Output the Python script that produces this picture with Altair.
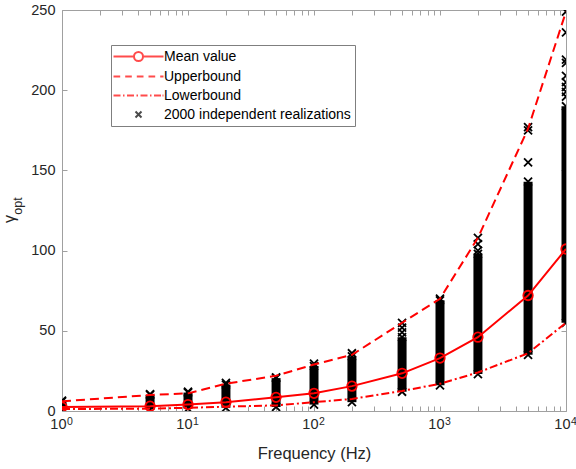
import altair as alt
import pandas as pd

# ---------------- data ----------------
freq = [1, 5, 10, 20, 50, 100, 200, 500, 1000, 2000, 5000, 10000]
mean_val = [2.5, 3, 4, 5.5, 8.5, 11, 15.5, 23.5, 33, 46, 72, 101]
upper = [6, 10, 11, 17, 22, 29, 35, 55, 70, 108, 176, 249]
lower = [1.2, 1.5, 2, 2.7, 3.5, 5.5, 7.5, 12.5, 17, 24, 36, 55]

# realizations: minimum and top of the dense column at each frequency
real_min = [0.5, 1, 1.5, 2, 2.5, 4, 5.5, 12, 16, 23, 35, 55]
real_dense_max = [6, 10, 11.5, 16.5, 20.5, 28, 34, 46, 69, 98, 143, 190]
# isolated realizations above the dense columns
out_freq = [1, 5, 10, 20, 50, 100, 200, 500, 500, 500, 1000,
            2000, 2000, 2000, 5000, 5000, 5000,
            10000, 10000, 10000, 10000, 10000, 10000, 10000, 10000, 10000]
out_val = [6.5, 10.5, 12, 17.5, 21, 29.5, 36, 49, 52, 55, 70,
           100, 104, 108, 155, 175, 177,
           196, 199, 202, 205, 209, 217, 219, 236, 249]

# axes
decades = [1, 10, 100, 1000, 10000]
dec_base = ["10", "10", "10", "10", "10"]
dec_exp = ["0", "1", "2", "3", "4"]
x_ticks = [1, 2, 3, 4, 5, 6, 7, 8, 9,
           10, 20, 30, 40, 50, 60, 70, 80, 90,
           100, 200, 300, 400, 500, 600, 700, 800, 900,
           1000, 2000, 3000, 4000, 5000, 6000, 7000, 8000, 9000, 10000]
y_ticks = [0, 50, 100, 150, 200, 250]

# legend
leg_names = ["Mean value", "Upperbound", "Lowerbound", "2000 independent realizations"]
leg_colors = ["#ff0000", "#ff0000", "#ff0000", "#000000"]

# ---------------- styling ----------------
FONT = "Liberation Sans"
GREY = "#a0a0a0"
TXT = "#262626"
RED = "#ff0000"
W, H = 504, 401

CROSS = "M-1,-1L1,1M-1,1L1,-1"

# legend glyphs, written in pixels and converted to symbol units
SYM = 13.0            # legend symbol box (px)
U = SYM / 2.0         # px per symbol unit


def _p(v):
    return f"{v / U:.4f}"


def seg_path(segs):
    return "".join(f"M{_p(a)},0L{_p(b)},0" for a, b in segs)


r = 4.5
LEG_MEAN = (seg_path([(-25, -r), (r, 25)]) +
            f"M{_p(r)},0A{_p(r)},{_p(r)} 0 1,1 {_p(-r)},0A{_p(r)},{_p(r)} 0 1,1 {_p(r)},0")
LEG_DASH = seg_path([(-25, -18.3), (-13.3, -6.7), (-1.7, 5), (10, 16.7), (21.7, 25)])
LEG_DASHDOT = seg_path([(-25, -18), (-15.5, -14), (-11.5, -4.5), (-2, -0.5), (2, 9),
                        (11.5, 13), (15.5, 22.5), (24, 25)])
c = 3.0
LEG_CROSS = f"M{_p(-c)},{_p(-c)}L{_p(c)},{_p(c)}M{_p(-c)},{_p(c)}L{_p(c)},{_p(-c)}"
leg_paths = [LEG_MEAN, LEG_DASH, LEG_DASHDOT, LEG_CROSS]

xs = alt.Scale(type="log", domain=[1, 10000], nice=False)
ys = alt.Scale(domain=[0, 250], nice=False)

curves = pd.DataFrame({"f": freq, "mean": mean_val, "upper": upper, "lower": lower,
                       "lo": real_min, "hi": real_dense_max})
pts = pd.DataFrame({"f": freq + freq + out_freq,
                    "v": real_min + real_dense_max + out_val})
declab = pd.DataFrame({"d": decades, "b": dec_base, "e": dec_exp})


def xn(field):
    return alt.X(field, scale=xs, axis=None)


def yn(field):
    return alt.Y(field, scale=ys, axis=None)


# dense columns of realizations (with main axes)
columns = alt.Chart(curves).mark_rule(strokeWidth=9, color="black", clip=True, strokeCap="butt").encode(
    x=alt.X("f:Q", scale=xs,
            axis=alt.Axis(title="Frequency (Hz)", labels=False, ticks=False, domain=False, grid=False,
                          titleFont=FONT, titleFontSize=16.5, titleFontWeight="normal", titleColor=TXT,
                          titlePadding=47, titleBaseline="alphabetic")),
    y=alt.Y("lo:Q", scale=ys,
            axis=alt.Axis(values=y_ticks, title=None, ticks=False, domain=False, grid=False,
                          labelFont=FONT, labelFontSize=14.5, labelColor=TXT, labelPadding=7)),
    y2="hi:Q",
)

realz = alt.Chart(pts).mark_point(shape=CROSS, size=64, strokeWidth=1.8, color="black",
                                  filled=False, opacity=1, clip=True).encode(
    x=xn("f:Q"), y=yn("v:Q"))

up_line = alt.Chart(curves).mark_line(color=RED, strokeWidth=2, strokeDash=[9, 5], clip=True).encode(
    x=xn("f:Q"), y=yn("upper:Q"))
lo_line = alt.Chart(curves).mark_line(color=RED, strokeWidth=2, strokeDash=[8, 3, 2, 3], clip=True).encode(
    x=xn("f:Q"), y=yn("lower:Q"))
mean_line = alt.Chart(curves).mark_line(color=RED, strokeWidth=2, clip=True).encode(
    x=xn("f:Q"), y=yn("mean:Q"))
mean_pts = alt.Chart(curves).mark_point(shape="circle", size=90, color=RED, filled=False,
                                        strokeWidth=1.8, opacity=1, clip=True).encode(
    x=xn("f:Q"), y=yn("mean:Q"))

# x tick labels 10^n
base_txt = alt.Chart(declab).mark_text(align="right", baseline="alphabetic", dx=4.5, font=FONT,
                                       fontSize=14.5, color=TXT).encode(
    x=xn("d:Q"), y=alt.value(H + 18), text="b:N")
exp_txt = alt.Chart(declab).mark_text(align="left", baseline="alphabetic", dx=5, font=FONT,
                                      fontSize=10.5, color=TXT).encode(
    x=xn("d:Q"), y=alt.value(H + 14), text="e:N")

# y title gamma_opt
g_txt = alt.Chart(pd.DataFrame({"t": ["γ"]})).mark_text(
    angle=270, align="center", baseline="alphabetic", font=FONT, fontSize=16, color=TXT).encode(
    x=alt.value(-47), y=alt.value(209), text="t:N")
opt_txt = alt.Chart(pd.DataFrame({"t": ["opt"]})).mark_text(
    angle=270, align="center", baseline="alphabetic", font=FONT, fontSize=12.5, color=TXT).encode(
    x=alt.value(-40), y=alt.value(196), text="t:N")

# inward ticks (bottom + left)
ticks_a = alt.Chart(curves).mark_point(opacity=0).encode(
    x=alt.X("f:Q", scale=xs, axis=alt.Axis(orient="top", offset=-H, values=x_ticks, labels=False,
                                           domain=False, grid=False, title=None, tickSize=5,
                                           tickColor=GREY, tickWidth=1)),
    y=alt.Y("mean:Q", scale=ys, axis=alt.Axis(orient="right", offset=-W, values=y_ticks, labels=False,
                                              domain=False, grid=False, title=None, tickSize=5,
                                              tickColor=GREY, tickWidth=1)),
)
# inward ticks (top + right)
ticks_b = alt.Chart(curves).mark_point(opacity=0).encode(
    x=alt.X("f:Q", scale=xs, axis=alt.Axis(orient="bottom", offset=-H, values=x_ticks, labels=False,
                                           domain=False, grid=False, title=None, tickSize=5,
                                           tickColor=GREY, tickWidth=1)),
    y=alt.Y("mean:Q", scale=ys, axis=alt.Axis(orient="left", offset=-W, values=y_ticks, labels=False,
                                              domain=False, grid=False, title=None, tickSize=5,
                                              tickColor=GREY, tickWidth=1)),
)

leg_props = dict(title=None, orient="none", legendX=49, legendY=35, fillColor="white",
                 strokeColor="#7f7f7f", padding=4, rowPadding=4, labelFont=FONT, labelFontSize=14,
                 labelColor="black", symbolOffset=16, labelOffset=18, labelLimit=0,
                 symbolSize=SYM * SYM, symbolStrokeWidth=2)
legend_layer = alt.Chart(alt.InlineData(values=[])).mark_point(filled=False, strokeWidth=2).encode(
    shape=alt.Shape("s:N", scale=alt.Scale(domain=leg_names, range=leg_paths),
                    legend=alt.Legend(**leg_props)),
    color=alt.Color("s:N", scale=alt.Scale(domain=leg_names, range=leg_colors),
                    legend=alt.Legend(**leg_props)),
)

chart = alt.layer(
    columns, realz, up_line, lo_line, mean_line, mean_pts,
    base_txt, exp_txt, g_txt, opt_txt, ticks_a, ticks_b, legend_layer,
).resolve_axis(x="independent", y="independent").properties(
    width=W, height=H,
    padding={"left": 62, "top": 10, "right": 10, "bottom": 58},
    autosize=alt.AutoSizeParams(type="none"),
    background="white",
).configure_view(stroke=GREY, strokeWidth=1)

chart.save("out.html", embed_options={"renderer": "svg", "actions": False})
